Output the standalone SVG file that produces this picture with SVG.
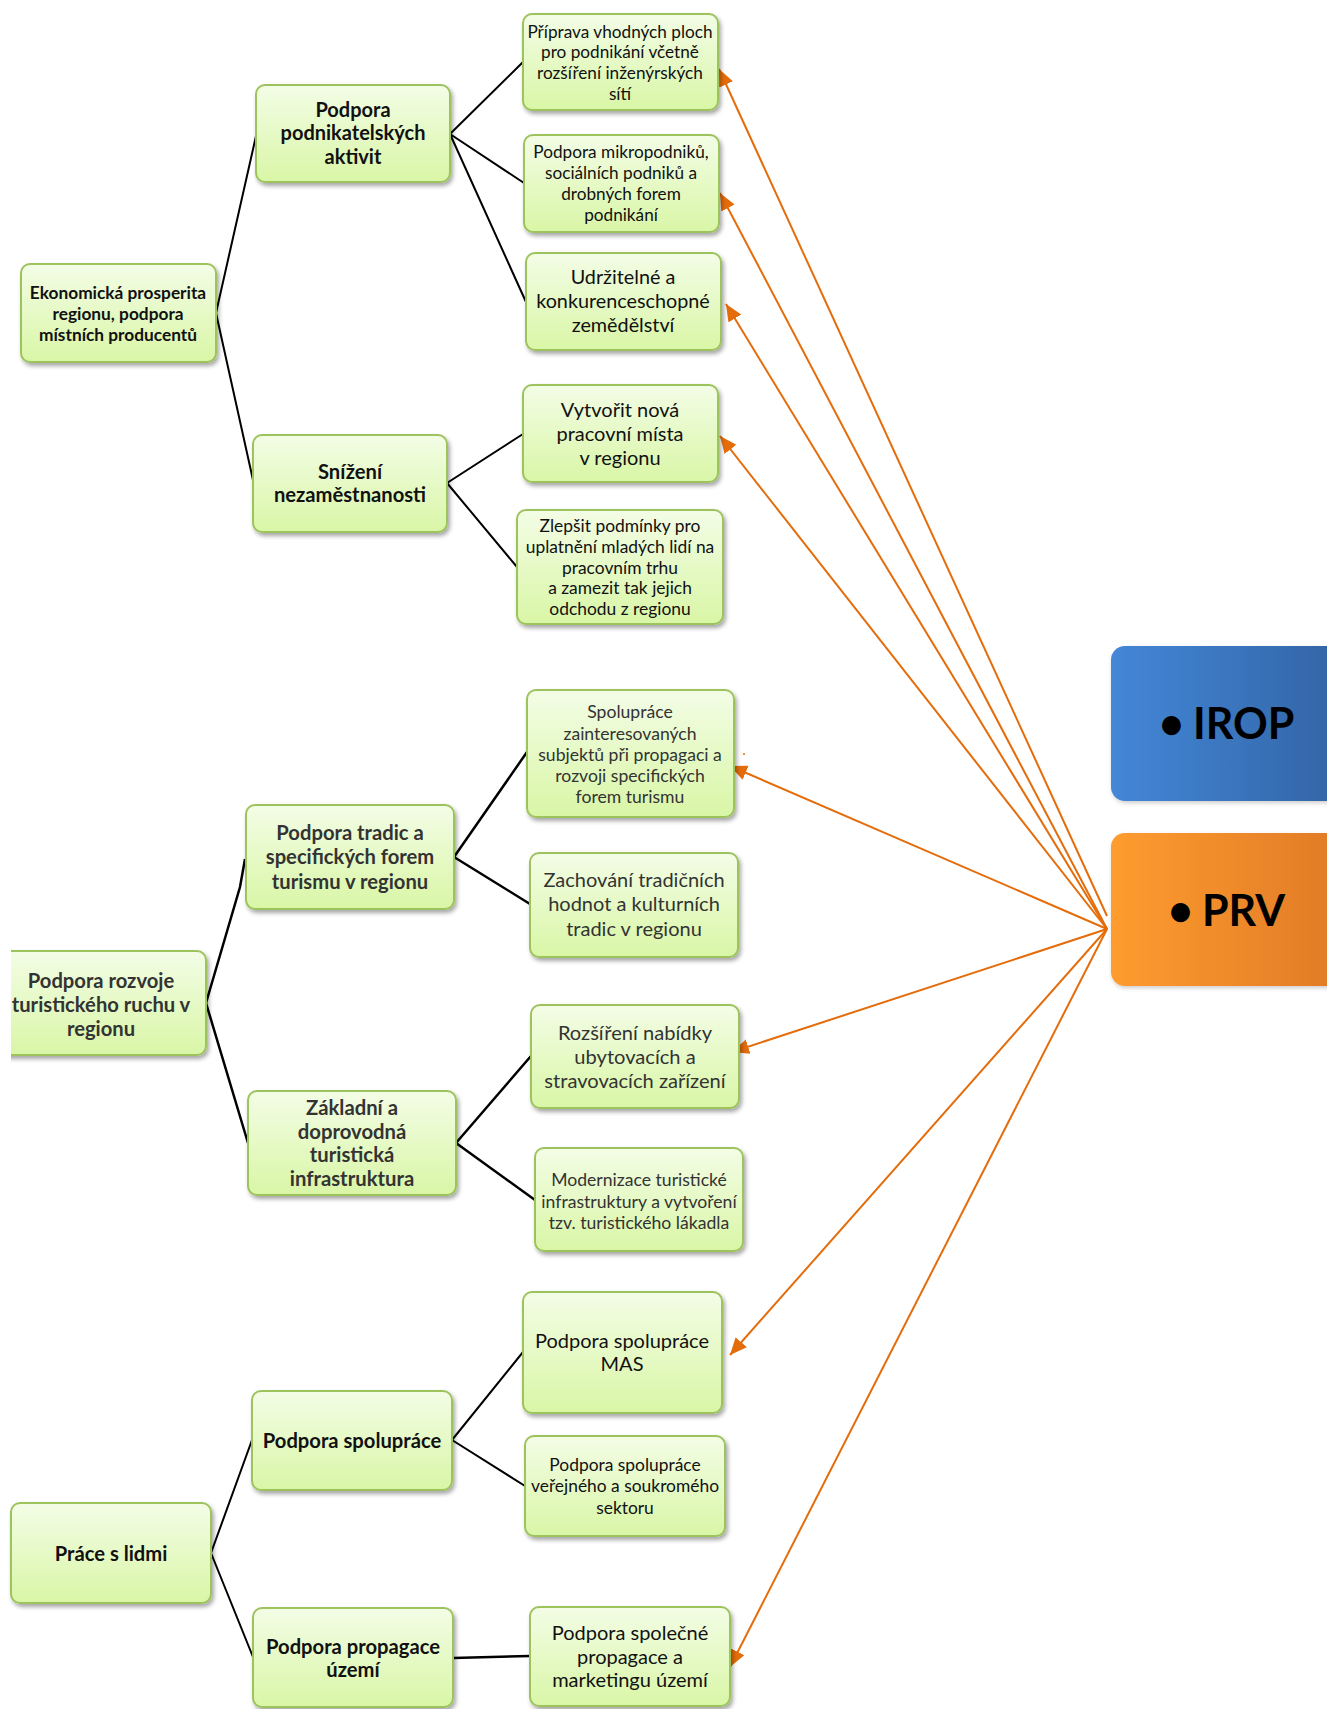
<svg xmlns="http://www.w3.org/2000/svg" width="1327" height="1709" viewBox="0 0 1327 1709">
<defs>
<linearGradient id="gGreen" x1="0" y1="0" x2="0" y2="1">
<stop offset="0" stop-color="#f3fde6"/>
<stop offset="1" stop-color="#d9f6a6"/>
</linearGradient>
<linearGradient id="gBlue" x1="0" y1="0" x2="1" y2="0">
<stop offset="0" stop-color="#4487d8"/>
<stop offset="1" stop-color="#3163a3"/>
</linearGradient>
<linearGradient id="gOrange" x1="0" y1="0" x2="1" y2="0">
<stop offset="0" stop-color="#fe9c2f"/>
<stop offset="1" stop-color="#df7926"/>
</linearGradient>
<filter id="sh" x="-10%" y="-10%" width="125%" height="130%">
<feDropShadow dx="2" dy="3" stdDeviation="2" flood-color="#000" flood-opacity="0.35"/>
</filter>
<filter id="sh2" x="-10%" y="-10%" width="125%" height="130%">
<feDropShadow dx="1" dy="2" stdDeviation="2" flood-color="#000" flood-opacity="0.2"/>
</filter>
<marker id="ah" markerUnits="userSpaceOnUse" markerWidth="19" markerHeight="16" refX="17" refY="7.5" orient="auto">
<path d="M0,0 L17,7.5 L0,15 z" fill="#e46c0a"/>
</marker>
<clipPath id="clipN2"><rect x="11" y="900" width="260" height="200"/></clipPath>
</defs>
<style>
.box{fill:url(#gGreen);stroke:#9dc35d;stroke-width:2;filter:url(#sh)}
.t{font-family:Lato,"Liberation Sans",sans-serif;text-anchor:middle;dominant-baseline:central;fill:#111}
.b{font-weight:bold}
.g{fill:#333}
.ln{stroke:#000;stroke-width:2;fill:none}
.lt{stroke:#000;stroke-width:2.5;fill:none}
.ar{stroke:#e46c0a;stroke-width:2;fill:none;marker-end:url(#ah)}
.big{font-family:Lato,"Liberation Sans",sans-serif;font-weight:bold;font-size:43px;fill:#000;dominant-baseline:central}
</style>
<rect width="1327" height="1709" fill="#fff"/>

<g id="connectors">
<path class="ln" d="M216,313 L256,136 M216,313 L253,480"/>
<path class="ln" d="M450,134 L523,62 M450,134 L524,183 M450,134 L526,302"/>
<path class="ln" d="M447,483 L523,434 M447,483 L517,567"/>
<path class="lt" d="M206,1003 L240,887 L245,859 M206,1003 L248,1143"/>
<path class="lt" d="M454,857 L527,752 M454,857 L530,904"/>
<path class="lt" d="M456,1143 L531,1056 M456,1143 L535,1200"/>
<path class="ln" d="M211,1553 L252,1440 M211,1553 L253,1657"/>
<path class="ln" d="M452,1440 L523,1352 M452,1440 L525,1486"/>
<path class="lt" d="M453,1658 L530,1656"/>
<line class="ar" x1="1107" y1="916" x2="719" y2="69"/>
<line class="ar" x1="1107" y1="929" x2="720" y2="193"/>
<line class="ar" x1="1107" y1="929" x2="726" y2="304"/>
<line class="ar" x1="1107" y1="929" x2="720" y2="436"/>
<line class="ar" x1="1107" y1="929" x2="730" y2="766"/>
<line class="ar" x1="1107" y1="929" x2="732" y2="1052"/>
<line class="ar" x1="1107" y1="929" x2="730" y2="1355"/>
<line class="ar" x1="1107" y1="929" x2="730" y2="1667"/>
<circle cx="744" cy="754" r="1" fill="#e46c0a"/>
</g>

<g id="n1"><rect class="box" x="21" y="264" width="195" height="98" rx="9"/>
<text class="t b" font-size="17.3"><tspan x="118" y="292">Ekonomická prosperita</tspan><tspan x="118" y="313">regionu, podpora</tspan><tspan x="118" y="334">místních producentů</tspan></text></g>

<g id="n2"><g clip-path="url(#clipN2)"><rect class="box" x="-8" y="951" width="214" height="104" rx="9"/></g>
<text class="t b g" font-size="20.2"><tspan x="101" y="980">Podpora rozvoje</tspan><tspan x="101" y="1004">turistického ruchu v</tspan><tspan x="101" y="1028">regionu</tspan></text></g>

<g id="n3"><rect class="box" x="11" y="1503" width="200" height="100" rx="9"/>
<text class="t b" font-size="20.2" x="111" y="1553">Práce s lidmi</text></g>

<g id="nA"><rect class="box" x="256" y="85" width="194" height="97" rx="9"/>
<text class="t b" font-size="20"><tspan x="353" y="109">Podpora</tspan><tspan x="353" y="132">podnikatelských</tspan><tspan x="353" y="156">aktivit</tspan></text></g>

<g id="nB"><rect class="box" x="253" y="435" width="194" height="97" rx="9"/>
<text class="t b" font-size="20.2"><tspan x="350" y="471">Snížení</tspan><tspan x="350" y="494">nezaměstnanosti</tspan></text></g>

<g id="nC"><rect class="box" x="246" y="805" width="208" height="104" rx="9"/>
<text class="t b g" font-size="20.2"><tspan x="350" y="832">Podpora tradic a</tspan><tspan x="350" y="856">specifických forem</tspan><tspan x="350" y="881">turismu v regionu</tspan></text></g>

<g id="nD"><rect class="box" x="248" y="1091" width="208" height="104" rx="9"/>
<text class="t b g" font-size="20.3"><tspan x="352" y="1107">Základní a</tspan><tspan x="352" y="1131">doprovodná</tspan><tspan x="352" y="1154">turistická</tspan><tspan x="352" y="1178">infrastruktura</tspan></text></g>

<g id="nE"><rect class="box" x="252" y="1391" width="200" height="99" rx="9"/>
<text class="t b" font-size="20.2" x="352" y="1440">Podpora spolupráce</text></g>

<g id="nF"><rect class="box" x="253" y="1608" width="200" height="99" rx="9"/>
<text class="t b" font-size="20.2"><tspan x="353" y="1646">Podpora propagace</tspan><tspan x="353" y="1669">území</tspan></text></g>

<g id="a1"><rect class="box" x="523" y="14" width="195" height="96" rx="9"/>
<text class="t" font-size="17.2"><tspan x="620" y="31">Příprava vhodných ploch</tspan><tspan x="620" y="51">pro podnikání včetně</tspan><tspan x="620" y="72">rozšíření inženýrských</tspan><tspan x="620" y="93">sítí</tspan></text></g>

<g id="a2"><rect class="box" x="524" y="135" width="195" height="97" rx="9"/>
<text class="t" font-size="17.2"><tspan x="621" y="151">Podpora mikropodniků,</tspan><tspan x="621" y="172">sociálních podniků a</tspan><tspan x="621" y="193">drobných forem</tspan><tspan x="621" y="214">podnikání</tspan></text></g>

<g id="a3"><rect class="box" x="526" y="253" width="195" height="97" rx="9"/>
<text class="t" font-size="19.8"><tspan x="623" y="276">Udržitelné a</tspan><tspan x="623" y="300">konkurenceschopné</tspan><tspan x="623" y="324">zemědělství</tspan></text></g>

<g id="b1"><rect class="box" x="523" y="385" width="195" height="97" rx="9"/>
<text class="t" font-size="20"><tspan x="620" y="409">Vytvořit nová</tspan><tspan x="620" y="433">pracovní místa</tspan><tspan x="620" y="457">v regionu</tspan></text></g>

<g id="b2"><rect class="box" x="517" y="510" width="206" height="114" rx="9"/>
<text class="t" font-size="17.4"><tspan x="620" y="525">Zlepšit podmínky pro</tspan><tspan x="620" y="546">uplatnění mladých lidí na</tspan><tspan x="620" y="567">pracovním trhu</tspan><tspan x="620" y="587">a zamezit tak jejich</tspan><tspan x="620" y="608">odchodu z regionu</tspan></text></g>

<g id="c1"><rect class="box" x="527" y="690" width="207" height="127" rx="9"/>
<text class="t g" font-size="17.6"><tspan x="630" y="711">Spolupráce</tspan><tspan x="630" y="733">zainteresovaných</tspan><tspan x="630" y="754">subjektů při propagaci a</tspan><tspan x="630" y="775">rozvoji specifických</tspan><tspan x="630" y="796">forem turismu</tspan></text></g>

<g id="c2"><rect class="box" x="530" y="853" width="208" height="104" rx="9"/>
<text class="t g" font-size="20"><tspan x="634" y="879">Zachování tradičních</tspan><tspan x="634" y="903">hodnot a kulturních</tspan><tspan x="634" y="928">tradic v regionu</tspan></text></g>

<g id="d1"><rect class="box" x="531" y="1005" width="208" height="103" rx="9"/>
<text class="t g" font-size="20.1"><tspan x="635" y="1032">Rozšíření nabídky</tspan><tspan x="635" y="1056">ubytovacích a</tspan><tspan x="635" y="1080">stravovacích zařízení</tspan></text></g>

<g id="d2"><rect class="box" x="535" y="1148" width="208" height="103" rx="9"/>
<text class="t g" font-size="17.6"><tspan x="639" y="1179">Modernizace turistické</tspan><tspan x="639" y="1201">infrastruktury a vytvoření</tspan><tspan x="639" y="1222">tzv. turistického lákadla</tspan></text></g>

<g id="e1"><rect class="box" x="523" y="1292" width="199" height="121" rx="9"/>
<text class="t" font-size="20"><tspan x="622" y="1340">Podpora spolupráce</tspan><tspan x="622" y="1363">MAS</tspan></text></g>

<g id="e2"><rect class="box" x="525" y="1436" width="200" height="100" rx="9"/>
<text class="t" font-size="17.4"><tspan x="625" y="1464">Podpora spolupráce</tspan><tspan x="625" y="1485">veřejného a soukromého</tspan><tspan x="625" y="1507">sektoru</tspan></text></g>

<g id="f1"><rect class="box" x="530" y="1607" width="200" height="99" rx="9"/>
<text class="t" font-size="20"><tspan x="630" y="1632">Podpora společné</tspan><tspan x="630" y="1656">propagace a</tspan><tspan x="630" y="1679">marketingu území</tspan></text></g>

<g id="irop"><rect x="1111" y="646" width="240" height="155" rx="14" fill="url(#gBlue)" filter="url(#sh2)"/>
<text class="big"><tspan x="1159" y="722">•</tspan><tspan x="1193" y="722">IROP</tspan></text></g>

<g id="prv"><rect x="1111" y="833" width="240" height="153" rx="14" fill="url(#gOrange)" filter="url(#sh2)"/>
<text class="big"><tspan x="1168" y="909">•</tspan><tspan x="1202" y="909">PRV</tspan></text></g>
</svg>
